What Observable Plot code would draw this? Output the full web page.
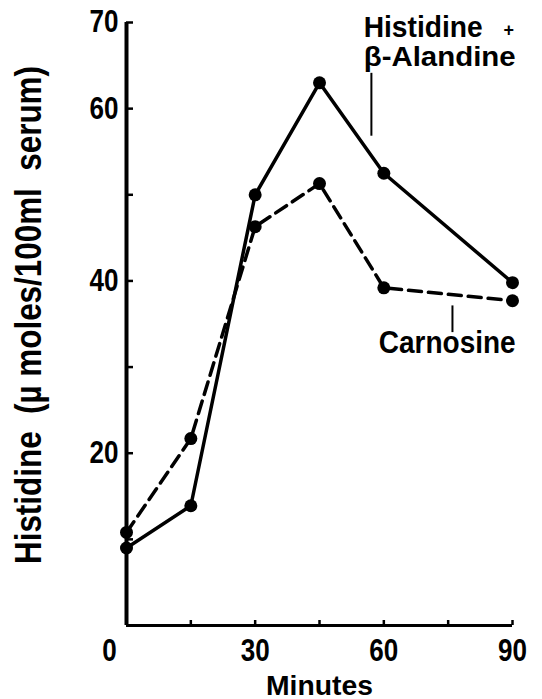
<!DOCTYPE html>
<html><head><meta charset="utf-8">
<script src="https://cdn.jsdelivr.net/npm/d3@7"></script>
<script src="https://cdn.jsdelivr.net/npm/@observablehq/plot@0.6"></script>
<style>body{margin:0;background:#fff} #chart svg{display:block}</style>
</head><body><div id="chart"></div>
<script>
// Data
const minutes = [0, 15, 30, 45, 60, 90];
const histidineBetaAlanine = [9.0, 13.9, 50.0, 63.0, 52.5, 39.8];
const carnosine = [10.8, 21.7, 46.3, 51.3, 39.2, 37.7];
const xTicks = [0, 15, 30, 45, 60, 75, 90];
const xTickLabels = [30, 60, 90];
const xZeroLabel = [0];
const yTicks = [10, 20, 30, 40, 50, 60, 70];
const yTickLabels = [20, 40, 60, 70];
const seriesNames = ["Histidine + β-Alanine", "Carnosine"];
const yTitle = "Histidine  (µ moles/100ml  serum)";
const xTitle = "Minutes";

const solid = minutes.map((m, i) => ({minute: m, value: histidineBetaAlanine[i], series: seriesNames[0]}));
const dashed = minutes.map((m, i) => ({minute: m, value: carnosine[i], series: seriesNames[1]}));

const font = "'Liberation Sans', Arial, sans-serif";

const chart = Plot.plot({
  width: 542,
  height: 699,
  marginTop: 22,
  marginBottom: 74,
  marginLeft: 126,
  marginRight: 30,
  style: `font-family: ${font}; font-weight: bold; font-size: 31px; color: black; background: white; overflow: visible;`,
  x: {domain: [0, 90]},
  y: {domain: [0, 70]},
  marks: [
    Plot.ruleX([0], {strokeWidth: 4}),
    Plot.ruleY([0], {strokeWidth: 3}),
    Plot.axisY({ticks: yTicks, tickSize: -7, strokeWidth: 2.5, tickFormat: () => "", label: null}),
    Plot.axisY({ticks: yTickLabels, tickSize: 0, tickPadding: 8, label: null, fontSize: 31}),
    Plot.axisX({ticks: xTicks, tickSize: -5, strokeWidth: 2.5, tickFormat: () => "", label: null}),
    Plot.axisX({ticks: xTickLabels, tickSize: 0, tickPadding: 13, label: null, fontSize: 31}),
    Plot.axisX({ticks: xZeroLabel, tickSize: 0, tickPadding: 13, dx: -17, label: null, fontSize: 31}),
    Plot.line(solid, {x: "minute", y: "value", strokeWidth: 3.5, stroke: "black"}),
    Plot.line(dashed, {x: "minute", y: "value", strokeWidth: 3.5, stroke: "black", strokeDasharray: "13,7"}),
    Plot.dot(solid, {x: "minute", y: "value", r: 6.5, fill: "black"}),
    Plot.dot(dashed, {x: "minute", y: "value", r: 6.5, fill: "black"}),
    Plot.ruleX([57.1], {y1: 64.1, y2: 56.8, strokeWidth: 2}),
    Plot.text(["Histidine"], {x: 55.3, y: 68.3, textAnchor: "start", lineAnchor: "bottom", fontSize: 29}),
    Plot.text(["+"], {x: 89.1, y: 69.1, textAnchor: "middle", lineAnchor: "middle", fontSize: 18}),
    Plot.text(["β-Alandine"], {x: 55.3, y: 65.0, textAnchor: "start", lineAnchor: "bottom", fontSize: 28}),
    Plot.ruleX([76], {y1: 37.1, y2: 34.0, strokeWidth: 2}),
    Plot.text(["Carnosine"], {x: 58.8, y: 31.6, textAnchor: "start", lineAnchor: "bottom", fontSize: 32}),
    Plot.text([xTitle], {frameAnchor: "bottom", dy: 69, lineAnchor: "bottom", fontSize: 27}),
    Plot.text([yTitle], {frameAnchor: "left", rotate: -90, dx: -97, dy: -9, textAnchor: "middle", fontSize: 36})
  ]
});
document.getElementById("chart").appendChild(chart);
// the original lettering is a narrow face: compress glyphs horizontally
const widths = {"Histidine": 119, "β-Alandine": 152, "Carnosine": 137, "Minutes": 107};
for (const t of chart.querySelectorAll("text")) {
  const s = t.textContent;
  if (!s.trim()) continue;
  let target;
  if (s.includes("serum")) target = 498;
  else if (s in widths) target = widths[s];
  else if (/^\d+$/.test(s)) target = t.getComputedTextLength() * 0.84;
  else continue;
  t.setAttribute("textLength", target);
  t.setAttribute("lengthAdjust", "spacingAndGlyphs");
}
</script>
</body></html>
